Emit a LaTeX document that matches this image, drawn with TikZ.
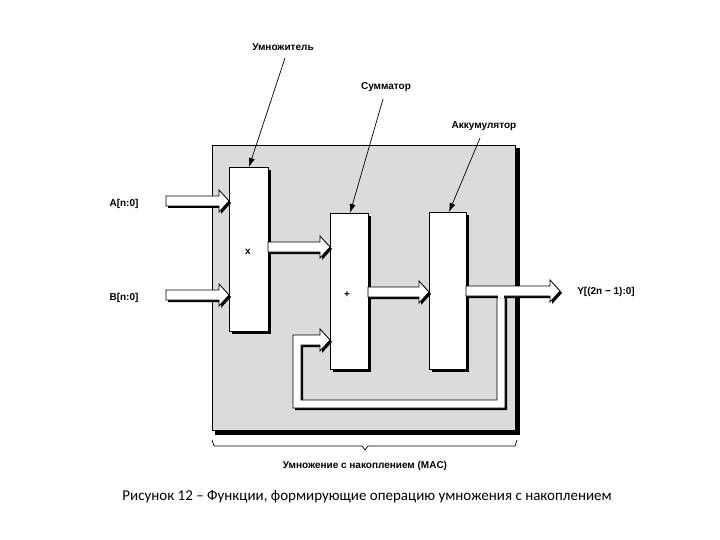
\documentclass[tikz,border=0pt]{standalone}
\usepackage{fontspec}
\setmainfont{Liberation Sans}
\newfontfamily\capfont{Carlito}
\usetikzlibrary{arrows.meta}
\newcommand{\harrow}[3]{%
  \fill[black] (#1+2,#3-3)--(#2-8,#3-3)--(#2-8,#3-9)--(#2+2,#3+2)--(#2-8,#3+13)--(#2-8,#3+7)--(#1+2,#3+7)--cycle;
  \draw[fill=white,line width=0.8pt] (#1,#3-5)--(#2-10,#3-5)--(#2-10,#3-11)--(#2,#3)--(#2-10,#3+11)--(#2-10,#3+5)--(#1,#3+5)--cycle;}
\tikzset{blk/.style={draw,fill=white,line width=0.9pt,inner sep=0pt,anchor=north west},
 lbl/.style={font=\fontsize{10}{11}\selectfont\bfseries},
 ptr/.style={-{Latex[length=9pt,width=6pt]},line width=0.7pt}}
\begin{document}
\begin{tikzpicture}[x=1pt,y=-1pt]
\useasboundingbox (0,0) rectangle (720,540);
\fill[black] (215,148) rectangle (520,435);
\node[draw,fill=black!14,line width=0.8pt,minimum width=303pt,minimum height=285pt,inner sep=0pt,anchor=north west] (panel) at (212,145) {};
% boxes with shadows
\fill[black] (232,170) rectangle (271,334);
\fill[black] (333,216) rectangle (371,372);
\fill[black] (432,215) rectangle (469,372);
\node[blk,minimum width=39pt,minimum height=164pt] (mul) at (229,167) {};
\node[blk,minimum width=38pt,minimum height=156pt] (add) at (330,213) {};
\node[blk,minimum width=37pt,minimum height=157pt] (acc) at (429,212) {};
\node[lbl] (xs) at (248,252) {x};
\node[lbl] (ps) at (347,295) {+};
% arrows
\harrow{166}{229}{201}
\harrow{166}{229}{295}
\harrow{268}{330}{247}
\harrow{368}{429}{292}
% feedback
\fill[black] (499,296)--(499,402)--(303,402)--(303,347)--(322,347)--(322,353)--(332,342)--(322,331)--(322,337)--(295,337)--(295,410)--(507,410)--(507,296)--cycle;
\draw[fill=white,line width=0.8pt] (497,294)--(497,400)--(301,400)--(301,345)--(320,345)--(320,351)--(330,340)--(320,329)--(320,335)--(293,335)--(293,408)--(505,408)--(505,294);
\harrow{466}{560}{291}
\fill[white] (497.6,295) rectangle (504.4,297.5);
% labels
\node[lbl] (lmul) at (283,47) {Умножитель};
\node[lbl] (ladd) at (386,87) {Сумматор};
\node[lbl] (lacc) at (484,126) {Аккумулятор};
\draw[ptr] (lmul.south)++(2,4) -- ([xshift=20pt]mul.north west);
\draw[ptr] (ladd.south)++(-3,4) -- ([xshift=20pt]add.north west);
\draw[ptr] (lacc.south)++(-4,4) -- ([xshift=20pt]acc.north west);
\node[lbl] (la) at (124,204) {A[n:0]};
\node[lbl] (lb) at (124,298) {B[n:0]};
\node[lbl] (ly) at (606,292) {Y[(2n − 1):0]};
% bracket
\draw[line width=0.7pt] (212,440)--(214,446)--(362,446)--(365,450)--(368,446)--(515,446)--(517,440);
\node[lbl] (mac) at (365,466) {Умножение с накоплением (MAC)};
\node[font=\capfont\fontsize{15}{17}\selectfont] (cap) at (367,497) {Рисунок 12 – Функции, формирующие операцию умножения с накоплением};
\end{tikzpicture}
\end{document}
